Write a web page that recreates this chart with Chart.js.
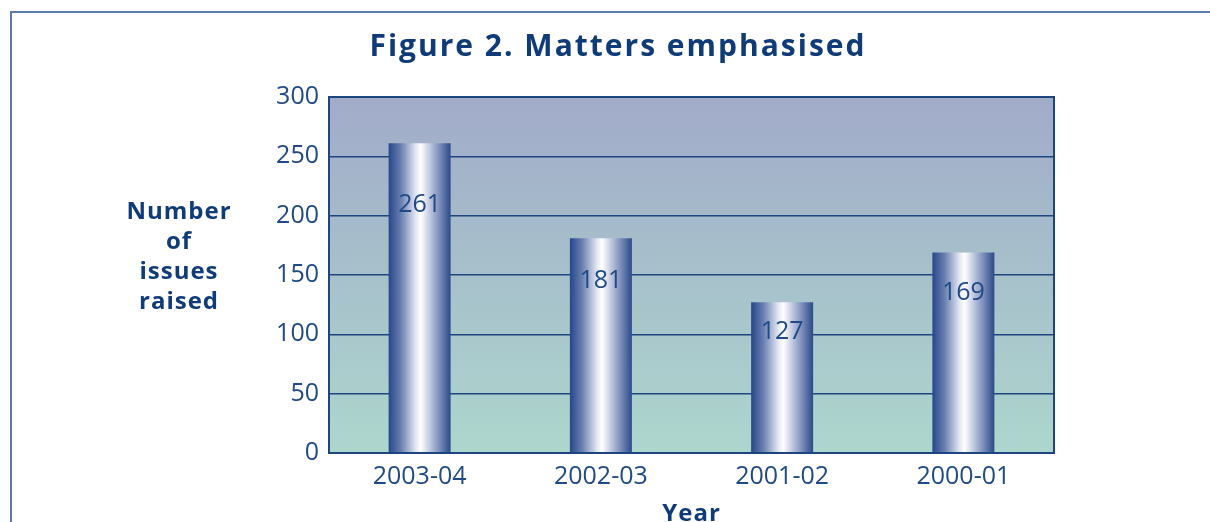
<!DOCTYPE html>
<html>
<head>
<meta charset="utf-8">
<script src="https://cdn.jsdelivr.net/npm/chart.js@4.4.1/dist/chart.umd.min.js"></script>
<style>
  html, body { margin: 0; padding: 0; background: #fff; overflow: hidden; }
  #wrap { position: relative; width: 1210px; height: 522px; }
  #frame { position: absolute; left: 10px; top: 11px; width: 1300px; height: 600px;
           border-left: 2px solid #5b7aab; border-top: 2px solid #5b7aab; }
  canvas { position: absolute; left: 0; top: 0; }
</style>
</head>
<body>
<div id="wrap">
  <div id="frame"></div>
  <canvas id="miGrafica" width="1210" height="522"></canvas>
</div>
<script>
// Datos del gráfico
const years = ["2003-04", "2002-03", "2001-02", "2000-01"];
const issues = [261, 181, 127, 169];
const yTicks = [0, 50, 100, 150, 200, 250, 300];
const titleText = "Figure 2. Matters emphasised";
const yTitleLines = ["Number", "of", "issues", "raised"];
const xTitleText = "Year";

const navy = "#1f4a85";
const fontFam = "'Open Sans', 'DejaVu Sans', sans-serif";

// Degradado horizontal tipo "cilindro" para una barra
function barGradient(ctx, x0, x1) {
  const g = ctx.createLinearGradient(x0, 0, x1, 0);
  g.addColorStop(0, "#27478a");
  g.addColorStop(0.2, "#6a80b0");
  g.addColorStop(0.44, "#e4e8f4");
  g.addColorStop(0.52, "#ffffff");
  g.addColorStop(0.63, "#d0d5e8");
  g.addColorStop(0.85, "#6e82b3");
  g.addColorStop(1, "#2b4a88");
  return g;
}

// Fondo degradado del área de la gráfica + etiquetas propias
const decoPlugin = {
  id: "deco",
  beforeDraw(chart) {
    const { ctx, chartArea: a } = chart;
    const g = ctx.createLinearGradient(0, a.top, 0, a.bottom);
    g.addColorStop(0, "#a1abc9");
    g.addColorStop(1, "#add6cd");
    ctx.save();
    ctx.fillStyle = g;
    ctx.fillRect(a.left, a.top, a.right - a.left, a.bottom - a.top);
    ctx.restore();
  },
  afterDatasetsDraw(chart) {
    const { ctx, chartArea: a } = chart;
    ctx.save();
    // valores dentro de las barras
    ctx.fillStyle = navy;
    ctx.font = "25px " + fontFam;
    ctx.textAlign = "center";
    ctx.textBaseline = "middle";
    chart.getDatasetMeta(0).data.forEach((bar, i) => {
      const y = bar.y + (bar.base - bar.y) * 0.2;
      ctx.fillText(String(issues[i]), bar.x, y);
    });
    // borde del área
    ctx.strokeStyle = "#1d4580";
    ctx.lineWidth = 2;
    ctx.strokeRect(a.left, a.top, a.right - a.left, a.bottom - a.top);
    // título
    ctx.fillStyle = "#0f3b78";
    ctx.font = "bold 30px " + fontFam;
    ctx.letterSpacing = "2px";
    ctx.fillText(titleText, 618, 47);
    // título eje y (horizontal, varias líneas)
    ctx.font = "bold 24px " + fontFam;
    ctx.letterSpacing = "1px";
    yTitleLines.forEach((t, i) => ctx.fillText(t, 179, 212 + i * 30));
    // título eje x
    ctx.fillText(xTitleText, (a.left + a.right) / 2, 514);
    ctx.restore();
  }
};

const ctx = document.getElementById("miGrafica").getContext("2d");
const chart = new Chart(ctx, {
  type: "bar",
  data: {
    labels: years,
    datasets: [{
      data: issues,
      backgroundColor(c) {
        const el = c.element;
        if (!el || !el.width) return "#8090c0";
        return barGradient(c.chart.ctx, el.x - el.width / 2, el.x + el.width / 2);
      },
      borderWidth: 0,
      barPercentage: 0.342,
      categoryPercentage: 1
    }]
  },
  options: {
    responsive: false,
    animation: false,
    layout: { padding: { top: 97, right: 156, bottom: 0, left: 0 } },
    plugins: {
      legend: { display: false },
      tooltip: { enabled: false },
      title: { display: false }
    },
    scales: {
      x: {
        grid: { display: false, drawTicks: false },
        border: { display: false },
        ticks: { color: navy, font: { family: fontFam, size: 25 }, padding: 9 },
        afterFit(scale) { scale.height = 69; }
      },
      y: {
        min: 0,
        max: 300,
        afterBuildTicks(scale) { scale.ticks = yTicks.map(v => ({ value: v })); },
        grid: { color: "#1d4580", lineWidth: 1.5, drawTicks: false },
        border: { display: false },
        ticks: { color: navy, font: { family: fontFam, size: 25 }, padding: 10 },
        afterFit(scale) { scale.width = 329; }
      }
    }
  },
  plugins: [decoPlugin]
});
// segunda pasada para que cada barra tenga su degradado con la posición ya calculada
chart.update("none");
</script>
</body>
</html>
